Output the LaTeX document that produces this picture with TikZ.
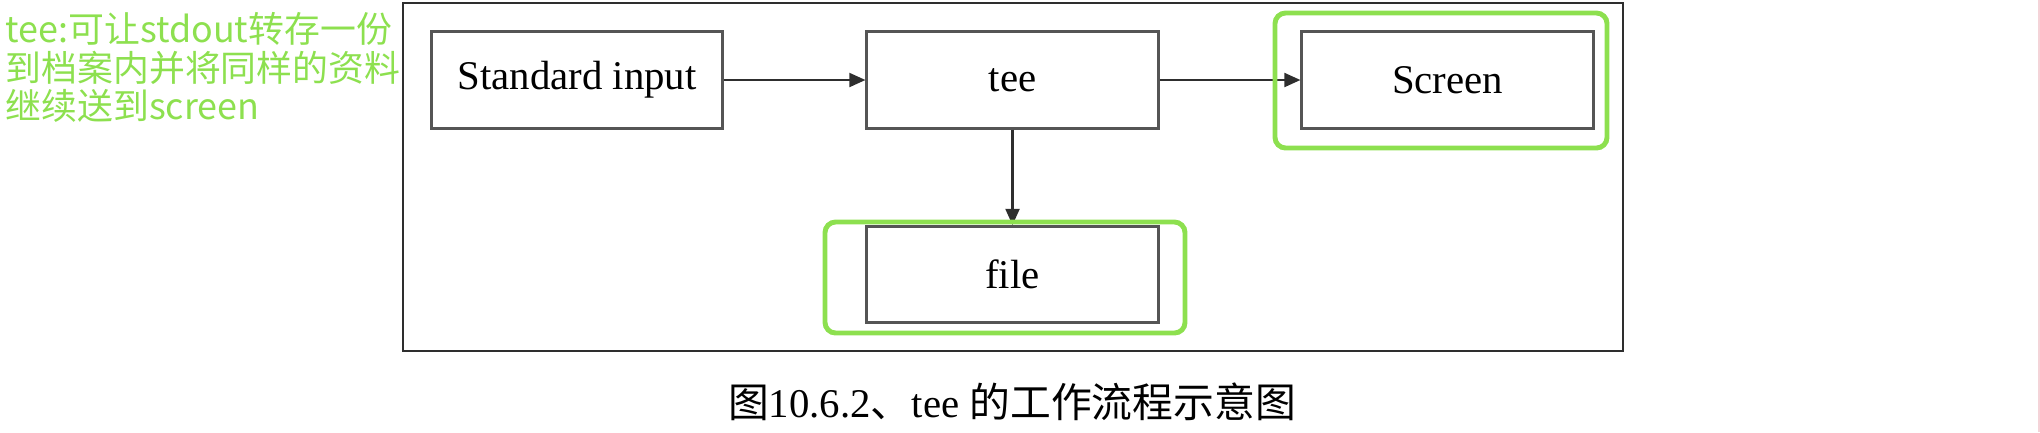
\documentclass[tikz,border=0pt]{standalone}
\usepackage{fontspec}
\setmainfont{Liberation Serif}
\newfontfamily\cjk{Noto Sans CJK SC}
\usepackage{tikz}
\usetikzlibrary{arrows.meta}
\definecolor{ink}{HTML}{2E2E2E}
\definecolor{edge}{HTML}{555555}
\definecolor{hlgreen}{HTML}{8DE04F}
\definecolor{pinkedge}{HTML}{F4D3D8}

\begin{document}
\begin{tikzpicture}[x=0.01cm,y=-0.01cm, every node/.style={font=\fontsize{11.6}{13}\selectfont},
  box/.style={draw=edge, line width=0.85pt, minimum width=2.91cm, minimum height=0.96cm,
              inner sep=0pt, align=center},
  flow/.style={draw=ink, line width=0.6pt, -{Triangle[length=4.6pt,width=4pt]}},
  hl/.style={draw=hlgreen, line width=1.4pt, rounded corners=3pt},
  frame/.style={draw=ink, line width=0.7pt},
  note/.style={text=hlgreen, font=\cjk\fontsize{10.2}{10.95}\selectfont, align=left,
               inner sep=0pt},
]
  \useasboundingbox (0,0) rectangle (2040,432);

  % Annotation on the left
  \node[note, anchor=north west] (note) at (5,12)
    {tee:可让stdout转存一份\\到档案内并将同样的资料\\继续送到screen};

  % Figure frame
  \draw[frame] (403,3) rectangle (1623,351);

  % Flow boxes
  \node[box] (stdin) at (577,80) {Standard input};
  \node[box] (tee) at (1012.5,80) {tee};
  \node[box] (screen) at (1447.5,80) {Screen};
  \node[box] (file) at (1012.5,274.5) {file};

  % Connectors
  \draw[flow] (stdin) -- (tee);
  \draw[flow] (tee) -- (screen);
  \draw[flow] (tee) -- (file);

  % Green highlights
  \draw[hl] (1275,13) rectangle (1607,148);
  \draw[hl] (825,222) rectangle (1185,333);

  % Caption
  \node (cap) at (1012,402) {{\cjk 图}10.6.2{\cjk 、}tee {\cjk 的工作流程示意图}};

  % right page edge
  \draw[pinkedge, line width=0.4pt] (2039,0) -- (2039,432);
\end{tikzpicture}
\end{document}
